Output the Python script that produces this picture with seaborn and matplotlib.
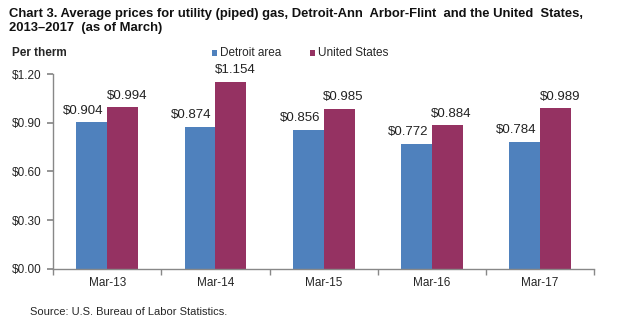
import matplotlib
matplotlib.use("Agg")
import matplotlib.pyplot as plt
from matplotlib.patches import Rectangle
from matplotlib.ticker import FixedLocator
import seaborn as sns
import pandas as pd

periods = ["Mar-13", "Mar-14", "Mar-15", "Mar-16", "Mar-17"]
detroit = [0.904, 0.874, 0.856, 0.772, 0.784]
united_states = [0.994, 1.154, 0.985, 0.884, 0.989]
series_names = ["Detroit area", "United States"]
colors = ["#4F81BD", "#953262"]
y_ticks = [0.0, 0.3, 0.6, 0.9, 1.2]

df = pd.DataFrame({
    "period": periods * 2,
    "price": detroit + united_states,
    "area": [series_names[0]] * len(periods) + [series_names[1]] * len(periods),
})

sns.set_theme(style="white")
plt.rcParams["font.family"] = ["Liberation Sans", "DejaVu Sans"]

fig = plt.figure(figsize=(6.39, 3.32), dpi=100)
ax = fig.add_axes([0.083, 0.19, 0.847, 0.587])

sns.barplot(data=df, x="period", y="price", hue="area", palette=colors,
            width=0.57, saturation=1, linewidth=0, ax=ax, legend=False)

# value labels: Excel-style, nudged outward from the pair of bars
for container, dx in zip(ax.containers, [-6, 3]):
    for bar, v in zip(container, container.datavalues):
        ax.annotate(f"${v:.3f}", (bar.get_x() + bar.get_width() / 2, bar.get_height()),
                    xytext=(dx, 4), textcoords="offset points",
                    ha="center", va="bottom", fontsize=9.5, color="#222222")

ax.set_ylim(0, 1.2)
ax.set_yticks(y_ticks)
ax.set_yticklabels([f"${v:.2f}" for v in y_ticks], fontsize=8.5)
ax.set_xlim(-0.5, len(periods) - 0.5)
ax.set_xticks(range(len(periods)))
ax.set_xticklabels(periods, fontsize=8.5)
ax.xaxis.set_minor_locator(FixedLocator([i - 0.5 for i in range(len(periods) + 1)]))
ax.tick_params(axis="x", which="major", length=0, pad=6)
ax.tick_params(axis="x", which="minor", length=4, color="#888888", direction="out", bottom=True)
ax.tick_params(axis="y", length=4, color="#888888", direction="out", left=True, pad=4)
ax.set_xlabel("")
ax.set_ylabel("")

for side in ["top", "right"]:
    ax.spines[side].set_visible(False)
for side in ["left", "bottom"]:
    ax.spines[side].set_color("#888888")
    ax.spines[side].set_linewidth(1)

fig.text(0.014, 0.975,
         "Chart 3. Average prices for utility (piped) gas, Detroit-Ann  Arbor-Flint  and the United  States,\n2013\u20132017  (as of March)",
         fontsize=9.4, fontweight="bold", va="top", ha="left", linespacing=1.2, color="#111111")
fig.text(0.018, 0.84, "Per therm", fontsize=8.5, fontweight="bold", va="center", ha="left")

# legend: small coloured squares followed by series names
for x0, name, c in [(0.332, series_names[0], colors[0]), (0.485, series_names[1], colors[1])]:
    fig.patches.append(Rectangle((x0, 0.832), 0.008, 0.016, transform=fig.transFigure,
                                 facecolor=c, edgecolor="none"))
    fig.text(x0 + 0.012, 0.84, name, fontsize=8.5, va="center", ha="left")

fig.text(0.047, 0.06, "Source: U.S. Bureau of Labor Statistics.", fontsize=8, va="center", ha="left")

fig.savefig("out.png", dpi=100)
